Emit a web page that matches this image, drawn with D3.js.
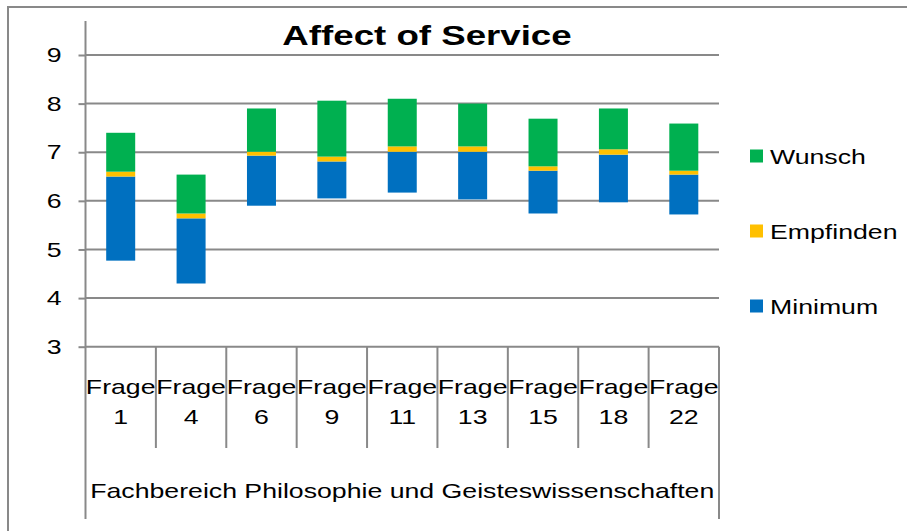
<!DOCTYPE html>
<html><head><meta charset="utf-8">
<script src="https://cdn.jsdelivr.net/npm/d3@7"></script>
<style>
body{margin:0;background:#fff;overflow:hidden}
text{font-family:"Liberation Sans",Arial,sans-serif;fill:#000}
</style>
</head><body><svg id="c" width="907" height="531"></svg>
<script>
// ---- data ----
const categories = ["Frage 1","Frage 4","Frage 6","Frage 9","Frage 11","Frage 13","Frage 15","Frage 18","Frage 22"];
const groupLabel = "Fachbereich Philosophie und Geisteswissenschaften";
const titleText = "Affect of Service";
const lowValues = [4.77,4.30,5.90,6.05,6.17,6.03,5.74,5.97,5.72];   // start of Minimum bar
const minimum   = [6.50,5.64,6.93,6.81,7.01,7.01,6.62,6.95,6.54];   // top of Minimum
const empfinden = [6.60,5.74,7.01,6.91,7.12,7.12,6.71,7.06,6.62];   // top of Empfinden
const wunsch    = [7.40,6.54,7.90,8.06,8.10,8.00,7.69,7.90,7.59];   // top of Wunsch
const yTicks = [3,4,5,6,7,8,9];
const seriesNames = ["Minimum","Empfinden","Wunsch"];
const seriesColors = ["#0070C0","#FFC000","#00B050"];

(function(){
// ---- layout ----
const svg = d3.select("#c");
const SX = 1.27; // horizontal stretch of text in the reference
const FS = 21;
const pLeft = 85.5, pRight = 719, pTop = 55, pBottom = 346.7;
const gridColor = "#898989";

const x = d3.scaleBand().domain(categories).range([pLeft, pRight]).paddingInner(0.588).paddingOuter(0.294);
const xCell = d3.scaleBand().domain(categories).range([pLeft, pRight]).padding(0);
const y = d3.scaleLinear().domain([3, 9]).range([pBottom, pTop]);

// outer chart border
svg.append("rect").attr("x", 8).attr("y", 7).attr("width", 1000).attr("height", 1000)
  .attr("fill", "none").attr("stroke", gridColor).attr("stroke-width", 2);

// gridlines
svg.append("g").selectAll("line").data(yTicks).join("line")
  .attr("x1", pLeft).attr("x2", pRight)
  .attr("y1", d => y(d)).attr("y2", d => y(d))
  .attr("stroke", gridColor).attr("stroke-width", 2);

// y axis
const yAxis = svg.append("g").attr("transform", `translate(${pLeft},0)`)
  .call(d3.axisLeft(y).tickValues(yTicks).tickSize(7).tickPadding(17).tickFormat(d3.format("d")));
yAxis.select(".domain").remove();
yAxis.selectAll(".tick line").attr("stroke", gridColor).attr("stroke-width", 2);
yAxis.selectAll(".tick text").attr("font-size", FS).attr("fill", "#000")
  .attr("font-family", "Liberation Sans, Arial, sans-serif")
  .attr("transform", function(){ const xx = +d3.select(this).attr("x"); return `translate(${xx*(1-SX)},0) scale(${SX},1)`; });

// vertical axis lines
svg.append("line").attr("x1", pLeft).attr("x2", pLeft).attr("y1", 21).attr("y2", 519)
  .attr("stroke", gridColor).attr("stroke-width", 2);
svg.append("line").attr("x1", pRight).attr("x2", pRight).attr("y1", pBottom).attr("y2", 519)
  .attr("stroke", gridColor).attr("stroke-width", 2);

// category separators
svg.append("g").selectAll("line").data(categories.slice(1)).join("line")
  .attr("x1", d => xCell(d)).attr("x2", d => xCell(d))
  .attr("y1", pBottom).attr("y2", 448)
  .attr("stroke", gridColor).attr("stroke-width", 2);

// bars
const stacks = [
  {name: seriesNames[0], color: seriesColors[0], lo: lowValues, hi: minimum},
  {name: seriesNames[1], color: seriesColors[1], lo: minimum, hi: empfinden},
  {name: seriesNames[2], color: seriesColors[2], lo: empfinden, hi: wunsch}
];
stacks.forEach(s => {
  svg.append("g").selectAll("rect").data(categories).join("rect")
    .attr("x", d => x(d)).attr("width", x.bandwidth())
    .attr("y", (d, i) => y(s.hi[i]))
    .attr("height", (d, i) => y(s.lo[i]) - y(s.hi[i]))
    .attr("fill", s.color);
});

// category labels
const catG = svg.append("g");
categories.forEach(c => {
  const cx = xCell(c) + xCell.bandwidth() / 2;
  const parts = c.split(" ");
  parts.forEach((p, k) => {
    catG.append("text").attr("transform", `translate(${cx},${394 + k * 30}) scale(${SX},1)`)
      .attr("text-anchor", "middle").attr("font-size", FS).text(p);
  });
});
svg.append("text").attr("transform", `translate(${(pLeft + pRight) / 2},498) scale(${SX},1)`)
  .attr("text-anchor", "middle").attr("font-size", FS).text(groupLabel);

// title
svg.append("text").attr("transform", `translate(427,45) scale(1.31,1)`)
  .attr("text-anchor", "middle").attr("font-size", 28).attr("font-weight", "bold").text(titleText);

// legend (top to bottom: Wunsch, Empfinden, Minimum)
const legendItems = seriesNames.map((n, i) => ({name: n, color: seriesColors[i]})).reverse();
const lg = svg.append("g");
legendItems.forEach((it, i) => {
  const cy = 156 + i * 75;
  lg.append("rect").attr("x", 750).attr("y", cy - 6.5).attr("width", 13).attr("height", 13).attr("fill", it.color);
  lg.append("text").attr("transform", `translate(770,${cy + 7.5}) scale(${SX},1)`)
    .attr("font-size", FS).text(it.name);
});
})();
</script>
</body></html>
